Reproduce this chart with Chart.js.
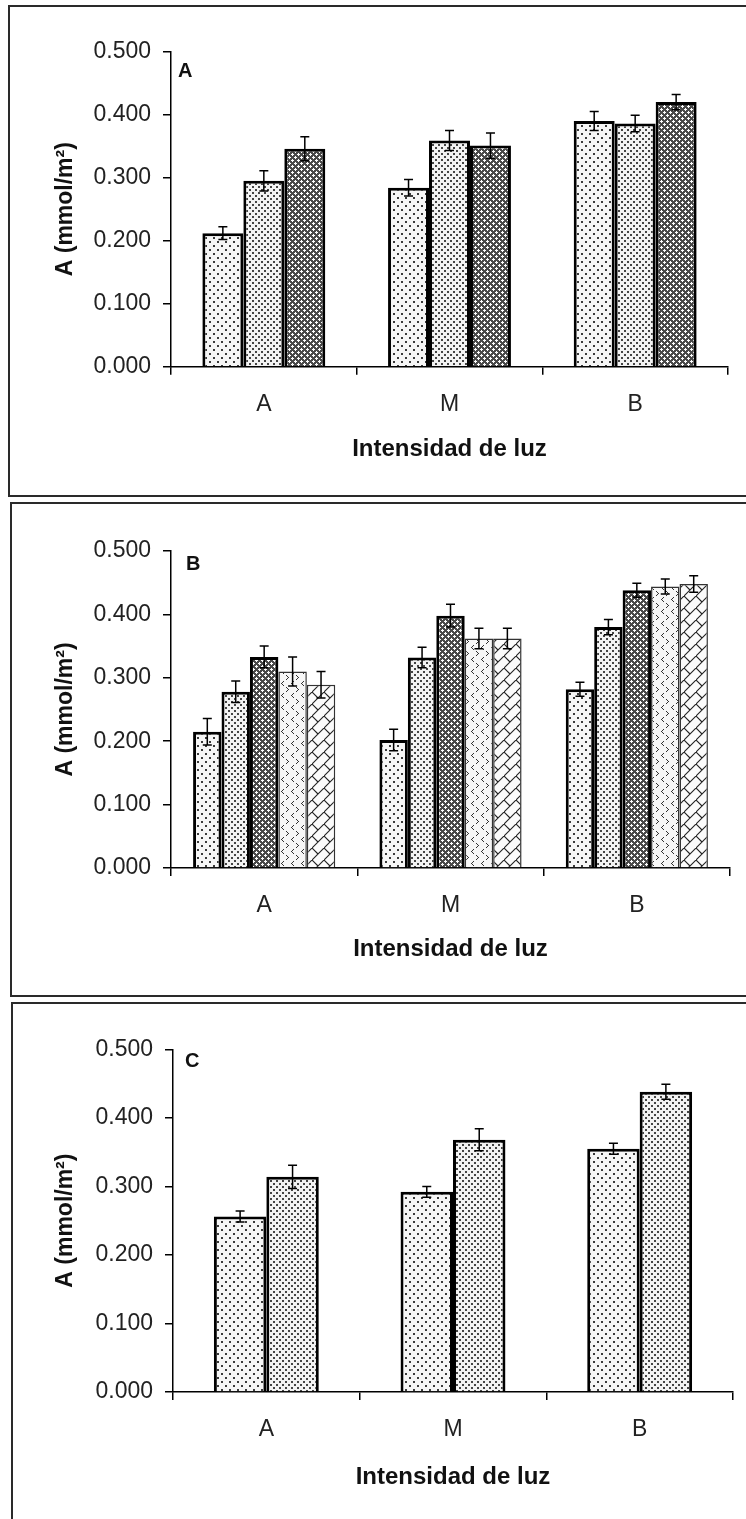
<!DOCTYPE html>
<html>
<head>
<meta charset="utf-8">
<script src="https://cdn.jsdelivr.net/npm/chart.js@4.4.1/dist/chart.umd.min.js"></script>
<style>
html, body { margin: 0; padding: 0; background: #fff; }
body { width: 746px; height: 1519px; position: relative; overflow: hidden; }
canvas { position: absolute; left: 0; }
.frame { position: absolute; border: 2px solid #2a2a2a; box-sizing: border-box; }
</style>
</head>
<body>
<canvas id="cA" width="746" height="500" style="top:0px"></canvas>
<canvas id="cB" width="746" height="500" style="top:500px"></canvas>
<canvas id="cC" width="746" height="519" style="top:1000px"></canvas>
<div class="frame" style="left:8px;top:5px;width:760px;height:492px"></div>
<div class="frame" style="left:10px;top:502px;width:760px;height:495px"></div>
<div class="frame" style="left:11px;top:1002px;width:760px;height:600px"></div>
<script>
// ---------------- DATA ----------------
const categories = ['A', 'M', 'B'];
const xAxisTitle = 'Intensidad de luz';
const yAxisTitle = 'A (mmol/m\u00B2)';
const yMin = 0, yMax = 0.5, yStep = 0.1;

// Panel A (3 series)
const panelA_s1 = [0.212, 0.284, 0.390];
const panelA_s1_err = [0.010, 0.013, 0.015];
const panelA_s2 = [0.295, 0.359, 0.386];
const panelA_s2_err = [0.016, 0.016, 0.013];
const panelA_s3 = [0.346, 0.351, 0.420];
const panelA_s3_err = [0.019, 0.020, 0.012];

// Panel B (5 series)
const panelB_s1 = [0.215, 0.202, 0.282];
const panelB_s1_err = [0.021, 0.017, 0.011];
const panelB_s2 = [0.278, 0.332, 0.380];
const panelB_s2_err = [0.017, 0.016, 0.012];
const panelB_s3 = [0.333, 0.398, 0.438];
const panelB_s3_err = [0.017, 0.018, 0.011];
const panelB_s4 = [0.310, 0.362, 0.444];
const panelB_s4_err = [0.023, 0.016, 0.012];
const panelB_s5 = [0.289, 0.362, 0.448];
const panelB_s5_err = [0.021, 0.016, 0.013];

// Panel C (2 series)
const panelC_s1 = [0.256, 0.292, 0.355];
const panelC_s1_err = [0.008, 0.008, 0.008];
const panelC_s2 = [0.314, 0.368, 0.438];
const panelC_s2_err = [0.017, 0.016, 0.011];

// ---------------- PATTERNS ----------------
function tile(w, h, draw) {
  const c = document.createElement('canvas');
  c.width = w; c.height = h;
  const g = c.getContext('2d');
  draw(g);
  return document.createElement('canvas').getContext('2d').createPattern(c, 'repeat');
}
const patSparse = tile(8, 8, g => {
  g.fillStyle = '#f6f6f6'; g.fillRect(0, 0, 8, 8);
  g.fillStyle = '#3a3a3a';
  g.fillRect(1, 1, 2, 2); g.fillRect(5, 5, 2, 2);
});
const patMedium = tile(6, 6, g => {
  g.fillStyle = '#f3f3f3'; g.fillRect(0, 0, 6, 6);
  g.fillStyle = '#444';
  g.fillRect(0, 0, 2, 2); g.fillRect(3, 3, 2, 2);
});
const patDark = tile(6, 6, g => {
  g.fillStyle = '#4a4a4a'; g.fillRect(0, 0, 6, 6);
  g.fillStyle = '#ffffff';
  [[1,0],[0,1],[1,1],[2,1],[1,2],[4,3],[3,4],[4,4],[5,4],[4,5]].forEach(p => g.fillRect(p[0], p[1], 1, 1));
});
const patChevron = tile(10, 12, g => {
  g.fillStyle = '#f7f7f7'; g.fillRect(0, 0, 10, 12);
  g.fillStyle = '#333';
  [[3,1],[2,2],[1,3],[2,4],[3,5],[6,7],[7,8],[8,9],[7,10],[6,11]].forEach(p => g.fillRect(p[0], p[1], 1, 1));
});
const patBrick = tile(12, 12, g => {
  g.fillStyle = '#fbfbfb'; g.fillRect(0, 0, 12, 12);
  g.strokeStyle = '#222'; g.lineWidth = 1.1;
  g.beginPath();
  g.moveTo(-1, 13); g.lineTo(13, -1);
  g.moveTo(0, 0); g.lineTo(6, 6);
  g.stroke();
});

// ---------------- PLUGINS ----------------
const errorBars = {
  id: 'errorBars',
  afterDatasetsDraw(chart) {
    const ctx = chart.ctx, ys = chart.scales.y;
    chart.data.datasets.forEach((ds, i) => {
      const meta = chart.getDatasetMeta(i);
      meta.data.forEach((bar, j) => {
        const v = ds.data[j], e = ds.errors[j];
        const yt = ys.getPixelForValue(v + e), yb = ys.getPixelForValue(v - e);
        ctx.save();
        ctx.strokeStyle = '#000'; ctx.lineWidth = 1.5;
        ctx.beginPath();
        ctx.moveTo(bar.x, yt); ctx.lineTo(bar.x, yb);
        ctx.moveTo(bar.x - 4.5, yt); ctx.lineTo(bar.x + 4.5, yt);
        ctx.moveTo(bar.x - 4.5, yb); ctx.lineTo(bar.x + 4.5, yb);
        ctx.stroke();
        ctx.restore();
      });
    });
  }
};
const panelLabel = {
  id: 'panelLabel',
  afterDraw(chart, args, opts) {
    const ctx = chart.ctx;
    ctx.save();
    ctx.font = 'bold 20px "Liberation Sans", Arial, sans-serif';
    ctx.fillStyle = '#111';
    ctx.textBaseline = 'alphabetic';
    ctx.textAlign = 'left';
    ctx.fillText(opts.text, opts.x, opts.y);
    ctx.restore();
  }
};

const FONT = '"Liberation Sans", Arial, sans-serif';
Chart.defaults.font.family = FONT;

function ds(data, errs, pattern, thin) {
  return {
    data: data, errors: errs,
    backgroundColor: pattern,
    borderColor: thin ? '#333' : '#000',
    borderWidth: thin ? 1.5 : 3,
    borderSkipped: 'start'
  };
}

function makePanel(id, datasets, lay) {
  const canvas = document.getElementById(id);
  const W = canvas.width, H = canvas.height;
  const yTitleHalf = 23 * 1.2 / 2;
  const xTitleHalf = 24 * 1.2 / 2;
  const padL = 66 - yTitleHalf;
  const xH = lay.titleY - lay.bottom + xTitleHalf;
  new Chart(canvas, {
    type: 'bar',
    data: { labels: categories, datasets: datasets },
    options: {
      responsive: false, animation: false, devicePixelRatio: 1,
      categoryPercentage: lay.catPct, barPercentage: 1.0,
      layout: { padding: { left: padL, top: lay.top, right: W - lay.right, bottom: H - lay.bottom - xH } },
      plugins: {
        legend: { display: false }, tooltip: { enabled: false },
        panelLabel: { text: lay.letter, x: lay.lx, y: lay.ly }
      },
      scales: {
        x: {
          afterFit: s => { s.height = xH; },
          grid: { drawOnChartArea: false, drawTicks: true, tickLength: 8, color: '#000', lineWidth: 1.5, offset: true },
          border: { display: true, color: '#000', width: 1.5 },
          ticks: { color: '#222', font: { size: 23, family: FONT }, padding: 16, maxRotation: 0, autoSkip: false },
          title: { display: true, text: xAxisTitle, color: '#111', padding: 0, font: { size: 24, weight: 'bold', family: FONT } }
        },
        y: {
          min: yMin, max: yMax,
          afterFit: s => { s.width = lay.left - padL; },
          grid: { drawOnChartArea: false, drawTicks: true, tickLength: 8, color: '#000', lineWidth: 1.5 },
          border: { display: true, color: '#000', width: 1.5 },
          ticks: { stepSize: yStep, color: '#222', font: { size: 23, family: FONT }, padding: 12, callback: v => Number(v).toFixed(3) },
          title: { display: true, text: yAxisTitle, color: '#111', padding: 0, font: { size: 23, weight: 'bold', family: FONT } }
        }
      }
    },
    plugins: [errorBars, panelLabel]
  });
}

makePanel('cA', [
  ds(panelA_s1, panelA_s1_err, patSparse),
  ds(panelA_s2, panelA_s2_err, patMedium),
  ds(panelA_s3, panelA_s3_err, patDark)
], { left: 171, right: 728, top: 51.7, bottom: 366.7, titleY: 449, catPct: 0.662, letter: 'A', lx: 178, ly: 77 });

makePanel('cB', [
  ds(panelB_s1, panelB_s1_err, patSparse),
  ds(panelB_s2, panelB_s2_err, patMedium),
  ds(panelB_s3, panelB_s3_err, patDark),
  ds(panelB_s4, panelB_s4_err, patChevron, true),
  ds(panelB_s5, panelB_s5_err, patBrick, true)
], { left: 171, right: 730, top: 51, bottom: 368, titleY: 449, catPct: 0.763, letter: 'B', lx: 186, ly: 70 });

makePanel('cC', [
  ds(panelC_s1, panelC_s1_err, patSparse),
  ds(panelC_s2, panelC_s2_err, patMedium)
], { left: 173, right: 733, top: 49.3, bottom: 392, titleY: 477, catPct: 0.562, letter: 'C', lx: 185, ly: 67 });
</script>
</body>
</html>
